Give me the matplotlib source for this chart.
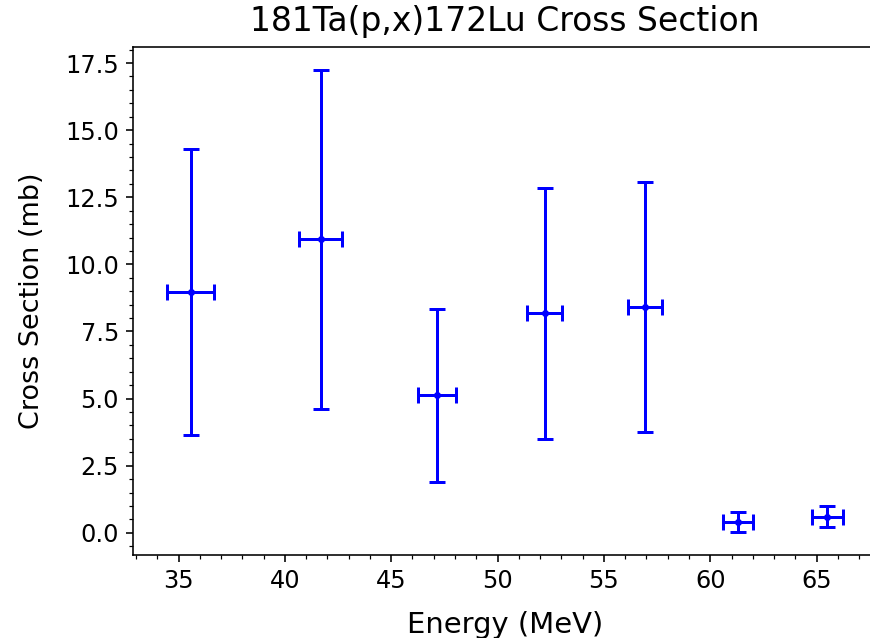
import matplotlib
matplotlib.use("Agg")
import matplotlib.pyplot as plt

# ── data ──────────────────────────────────────────────────────────────────
energy = [35.57, 41.68, 47.16, 52.21, 56.92, 61.30, 65.51]       # MeV
energy_err = [1.12, 1.00, 0.89, 0.84, 0.80, 0.72, 0.74]
xsec = [8.97, 10.93, 5.12, 8.17, 8.40, 0.41, 0.60]               # mb
xsec_err = [5.31, 6.30, 3.22, 4.68, 4.66, 0.38, 0.40]

fig = plt.figure(figsize=(870 / 144, 638 / 144), dpi=144)
# the reference is cropped on the right, so the axes run just past the edge
ax = fig.add_axes([133 / 870, 0.13, 744 / 870, 0.796])

ax.errorbar(energy, xsec, xerr=energy_err, yerr=xsec_err,
            fmt='o', color='blue', ms=2.5, elinewidth=1.5,
            capsize=4, capthick=1.5)

ax.set_xlabel('Energy (MeV)', fontsize=14.5, labelpad=9)
ax.set_ylabel('Cross Section (mb)', fontsize=13.5, labelpad=10)
ax.set_title('181Ta(p,x)172Lu Cross Section', fontsize=16.5, pad=8)
ax.tick_params(labelsize=12)
ax.minorticks_on()

fig.savefig('out.png', dpi=144)
